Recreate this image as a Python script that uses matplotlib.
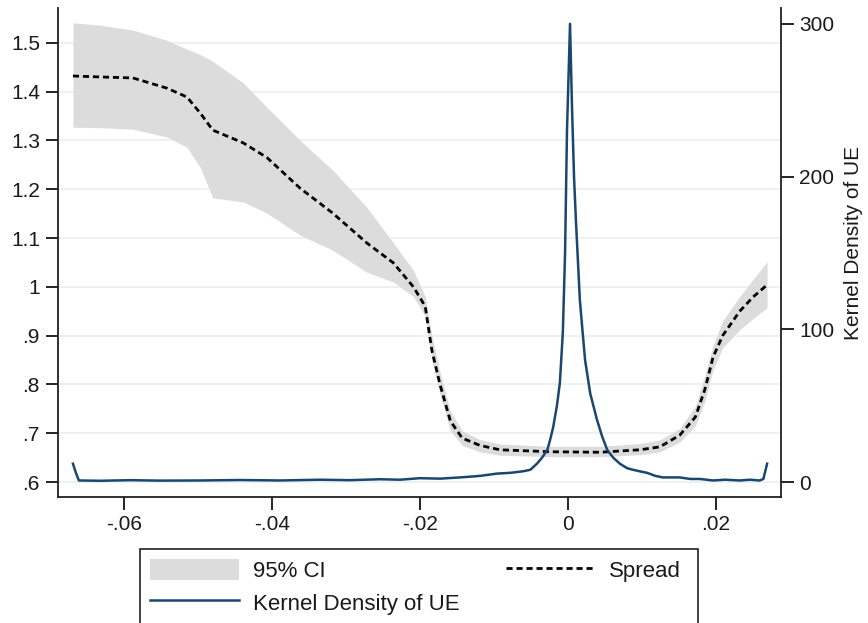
import matplotlib
matplotlib.use("Agg")
import matplotlib.pyplot as plt
from matplotlib.patches import Patch, Rectangle
from matplotlib.lines import Line2D

plt.rcParams['font.family'] = ['Liberation Sans', 'DejaVu Sans']

# ---- data ----
x_ci = [-0.0669, -0.0632, -0.0588, -0.0542, -0.0515, -0.0497, -0.0480, -0.0439,
        -0.0407, -0.0362, -0.0318, -0.0272, -0.0236, -0.0209, -0.0193, -0.0184,
        -0.0173, -0.0159, -0.0143, -0.0119, -0.0092, -0.0024, 0.0043, 0.0097,
        0.0124, 0.0151, 0.0172, 0.0185, 0.0196, 0.0209, 0.0232, 0.0250, 0.0269]
spread = [1.432, 1.430, 1.428, 1.407, 1.389, 1.356, 1.321, 1.295,
          1.265, 1.202, 1.151, 1.090, 1.049, 1.000, 0.960, 0.870,
          0.800, 0.725, 0.690, 0.675, 0.666, 0.662, 0.661, 0.666,
          0.672, 0.696, 0.733, 0.790, 0.856, 0.900, 0.950, 0.979, 1.004]
ci_hi = [1.541, 1.536, 1.526, 1.505, 1.487, 1.476, 1.462, 1.418,
         1.368, 1.300, 1.239, 1.163, 1.090, 1.034, 0.980, 0.900,
         0.825, 0.745, 0.705, 0.687, 0.678, 0.673, 0.673, 0.679,
         0.686, 0.710, 0.755, 0.820, 0.880, 0.930, 0.980, 1.015, 1.051]
ci_lo = [1.327, 1.326, 1.323, 1.307, 1.286, 1.245, 1.182, 1.174,
         1.151, 1.106, 1.075, 1.030, 1.010, 0.980, 0.940, 0.850,
         0.780, 0.705, 0.675, 0.662, 0.655, 0.652, 0.652, 0.656,
         0.662, 0.682, 0.715, 0.765, 0.830, 0.875, 0.912, 0.935, 0.957]

x_kd = [-0.0669, -0.0665, -0.0661, -0.0632, -0.0591, -0.0551, -0.0497, -0.0443,
        -0.0389, -0.0335, -0.0295, -0.0254, -0.0227, -0.0200, -0.0173, -0.0146,
        -0.0132, -0.0119, -0.0096, -0.0078, -0.0061, -0.0051, -0.0042, -0.0035,
        -0.0028, -0.0024, -0.0020, -0.0015, -0.0011, -0.0007, -0.0004, -0.00014,
        0.00027, 0.00054, 0.00081, 0.00108, 0.0016, 0.0023, 0.0030, 0.0039,
        0.0046, 0.0053, 0.0061, 0.0070, 0.0080, 0.0088, 0.0097, 0.0107,
        0.0118, 0.0128, 0.0138, 0.0151, 0.0165, 0.0178, 0.0196, 0.0212,
        0.0232, 0.0246, 0.0259, 0.0264, 0.0269]
kd = [12, 6, 1, 0.8, 1.2, 0.9, 1.0, 1.3,
      1.0, 1.5, 1.2, 1.8, 1.5, 2.5, 2.2, 3.0,
      3.5, 4.0, 5.5, 6.0, 7.0, 8.0, 12, 16,
      21, 28, 36, 50, 65, 98, 150, 230,
      300, 245, 200, 170, 119, 80, 58, 41,
      30, 21, 16, 12, 9, 8, 7, 6,
      4, 3, 3, 3, 2, 2, 1, 1.5,
      1, 1.5, 1, 2, 12]

left_ticks = [0.6, 0.7, 0.8, 0.9, 1.0, 1.1, 1.2, 1.3, 1.4, 1.5]
left_labels = ['.6', '.7', '.8', '.9', '1', '1.1', '1.2', '1.3', '1.4', '1.5']
x_ticks = [-0.06, -0.04, -0.02, 0, 0.02]
x_labels = ['-.06', '-.04', '-.02', '0', '.02']
right_ticks = [0, 100, 200, 300]

# ---- style ----
navy = '#1a476f'
ci_col = '#dcdcdc'
grid_col = '#e9f0f1'
txt = '#1a1a1a'
fs = 15
dash = (0, (2.2, 1.4))

fig = plt.figure(figsize=(8.68, 6.23), dpi=100)
ax = fig.add_axes([58/868, 1-497/623, (781-58)/868, (497-8)/623])
ax.set_xlim(-0.06892, 0.02878)
ax.set_ylim(0.5693, 1.5713)

ax.set_axisbelow(True)
for t in left_ticks:
    ax.axhline(t, color=grid_col, lw=1.2, zorder=0)

ax.fill_between(x_ci, ci_lo, ci_hi, color=ci_col, lw=0, zorder=1)
ax.plot(x_ci, spread, color='black', lw=2.0, ls=dash, zorder=2)

ax.set_yticks(left_ticks)
ax.set_yticklabels(left_labels)
ax.set_xticks(x_ticks)
ax.set_xticklabels(x_labels)
ax.tick_params(axis='both', direction='out', length=9, width=1.2, labelsize=fs,
               colors='black', labelcolor=txt, pad=4)

ax2 = ax.twinx()
ax2.set_ylim(-9.82, 310.4)
ax2.plot(x_kd, kd, color=navy, lw=1.8, zorder=3)
ax2.set_yticks(right_ticks)
ax2.tick_params(axis='y', direction='out', length=9, width=1.2, labelsize=fs,
                colors='black', labelcolor=txt, pad=4)
ax2.set_ylabel('Kernel Density of UE', fontsize=15, color=txt)
ax2.yaxis.set_label_coords(1.087, 0.519)

for a in (ax, ax2):
    a.spines['top'].set_visible(False)
    for s in ('left', 'bottom', 'right'):
        a.spines[s].set_linewidth(1.3)
        a.spines[s].set_color('#222222')
ax.spines['right'].set_visible(False)
ax2.spines['left'].set_visible(False)
ax2.spines['bottom'].set_visible(False)

# legend frame (runs past the bottom edge, as in the reference)
fig.patches.append(Rectangle((140/868, -0.2), (698-140)/868, 0.2 + 1-549/623,
                             transform=fig.transFigure, fill=False,
                             edgecolor='#222222', lw=1.2))

handles = [Patch(facecolor=ci_col, edgecolor='none'),
           Line2D([], [], color=navy, lw=1.8),
           Line2D([], [], color='black', lw=2.0, ls=dash)]
labels = ['95% CI', 'Kernel Density of UE', 'Spread']
leg = fig.legend(handles, labels, ncol=2, loc='upper left',
                 bbox_to_anchor=(150/868, 1-559/623),
                 fontsize=16, handlelength=4.0, handleheight=1.08,
                 handletextpad=0.63, labelspacing=0.42, borderpad=0,
                 columnspacing=2.1, borderaxespad=0, frameon=False)
for t in leg.get_texts():
    t.set_color(txt)

fig.savefig('out.png', dpi=100)
